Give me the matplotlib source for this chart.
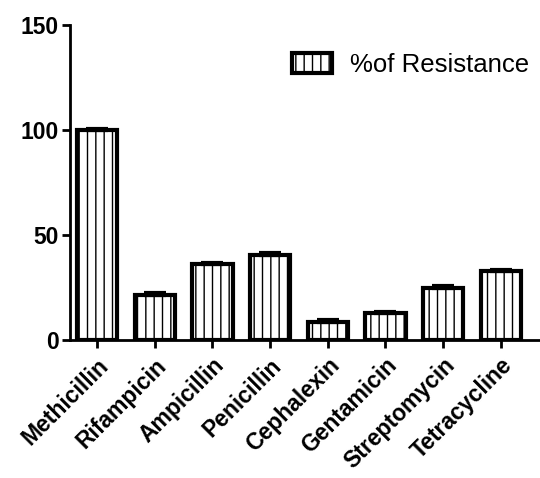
import matplotlib.pyplot as plt

plt.rcParams['font.family'] = ['Liberation Sans', 'DejaVu Sans']
plt.rcParams['hatch.linewidth'] = 1.0

# data
drugs = ['Methicillin', 'Rifampicin', 'Ampicillin', 'Penicillin',
         'Cephalexin', 'Gentamicin', 'Streptomycin', 'Tetracycline']
resistance = [100, 21.2, 36.3, 40.6, 8.8, 12.8, 24.8, 32.7]
err = [0.3, 1.2, 0.6, 0.8, 0.8, 0.7, 0.8, 0.8]

fig = plt.figure(figsize=(5.4, 4.78), dpi=100)
ax = fig.add_axes([70 / 540, 1 - 340 / 478, 470 / 540, 315 / 478])

x = list(range(len(drugs)))
ax.bar(x, resistance, width=0.7, color='white', edgecolor='black',
       linewidth=3, hatch='||', label='%of Resistance', zorder=2)
ax.errorbar(x, resistance, yerr=[[0] * len(err), err], fmt='none',
            ecolor='black', elinewidth=3, capsize=8, capthick=3, zorder=3)

ax.set_ylim(0, 150)
ax.set_xlim(-0.47, 7.68)
ax.set_yticks([0, 50, 100, 150])
ax.set_xticks(x)
ax.set_xticklabels(drugs, rotation=45, ha='right', rotation_mode='anchor')

for lab in ax.get_yticklabels():
    lab.set_fontweight('bold')
    lab.set_fontsize(16.5)
for lab in ax.get_xticklabels():
    lab.set_fontweight('bold')
    lab.set_fontsize(16.5)

ax.spines['top'].set_visible(False)
ax.spines['right'].set_visible(False)
ax.spines['left'].set_linewidth(2)
ax.spines['bottom'].set_linewidth(2)
ax.tick_params(axis='both', width=2, length=6, pad=2)
ax.tick_params(axis='x', pad=4)

ax.legend(loc='upper right', bbox_to_anchor=(1.025, 0.985), frameon=False,
          fontsize=18.5, handlelength=1.55, handleheight=0.85, handletextpad=0.7)

fig.savefig('out.png', dpi=100)
